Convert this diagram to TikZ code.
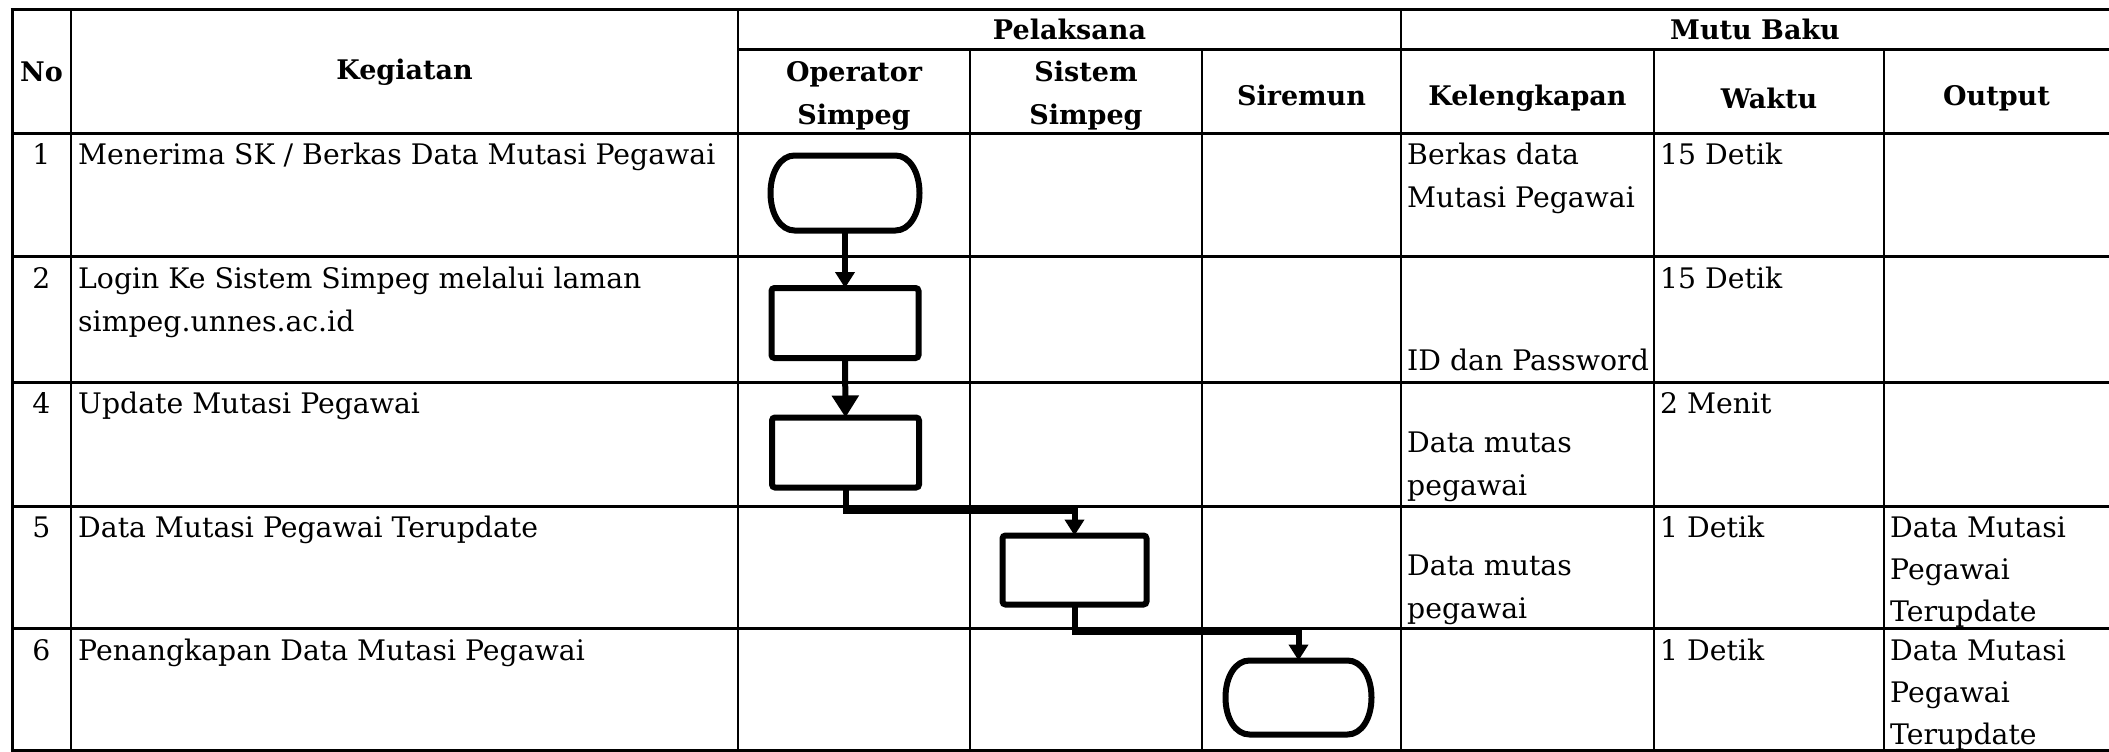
\documentclass[tikz,border=0pt]{standalone}
\usepackage{fontspec}
\setmainfont{DejaVu Serif}
\usetikzlibrary{arrows.meta}
\newcommand\drawterm[1]{%
  \draw[flowline] ([xshift=24pt]#1.north west) -- ([xshift=-24pt]#1.north east)
    .. controls ([xshift=-10pt]#1.north east) and ([yshift=21pt]#1.east) .. (#1.east)
    .. controls ([yshift=-21pt]#1.east) and ([xshift=-10pt]#1.south east) .. ([xshift=-24pt]#1.south east)
    -- ([xshift=24pt]#1.south west)
    .. controls ([xshift=10pt]#1.south west) and ([yshift=-21pt]#1.west) .. (#1.west)
    .. controls ([yshift=21pt]#1.west) and ([xshift=10pt]#1.north west) .. cycle;}
\begin{document}
\begin{tikzpicture}[x=1pt,y=-1pt,
  hline/.style={line width=3pt},
  vline/.style={line width=2pt},
  hdr/.style={font=\bfseries\fontsize{27}{43}\selectfont, inner sep=0pt, align=center},
  txt/.style={font=\fontsize{28.3}{43}\selectfont, anchor=base west, inner sep=0pt},
  num/.style={font=\fontsize{28.3}{43}\selectfont, anchor=base, inner sep=0pt},
  flowline/.style={line width=6pt, line join=round},
  term/.style={inner sep=0pt, outer sep=0pt, minimum width=149pt, minimum height=75pt},
  proc/.style={draw, line width=6pt, rounded corners=3pt, minimum width=147pt, minimum height=70pt, inner sep=0pt, outer sep=0pt},
  conn/.style={line width=6pt, -{Triangle[length=16pt,width=19pt]}},
  bigconn/.style={line width=6pt, -{Triangle[length=22pt,width=26pt]}}
]
\useasboundingbox (0,0) rectangle (2109,752);
\clip (0,0) rectangle (2109,752);
\fill[white] (0,0) rectangle (2109,752);

% table lines
\draw[hline] (10.5,10) -- (2115,10);
\draw[hline] (738,50) -- (2115,50);
\foreach \yy in {133,256,382,506,628} \draw[hline] (12,\yy) -- (2115,\yy);
\draw[hline] (10.5,750) -- (2115,750);
\draw[hline] (12,10) -- (12,751.5);
\foreach \xx in {71,738,1401} \draw[vline] (\xx,10) -- (\xx,750);
\foreach \xx in {970,1202,1654,1884} \draw[vline] (\xx,50) -- (\xx,750);

% headers
\node[hdr] (hno) at (41.5,72) {No};
\node[hdr] (hkeg) at (404.5,72) {Kegiatan};
\node[hdr] (hpel) at (1069.5,29) {Pelaksana};
\node[hdr] (hmutu) at (1755,29) {Mutu Baku};
\node[hdr] (hop) at (854,96) {Operator\\Simpeg};
\node[hdr] (hsis) at (1086,96) {Sistem\\Simpeg};
\node[hdr] (hsir) at (1301.5,95) {Siremun};
\node[hdr] (hkel) at (1527.5,98) {Kelengkapan};
\node[hdr] (hwak) at (1769,98) {Waktu};
\node[hdr] (hout) at (1996.5,98) {Output};

% row 1
\node[num] (n1) at (41.5,164) {1};
\node[txt] (k1) at (78,164) {Menerima SK / Berkas Data Mutasi Pegawai};
\node[txt] (l1a) at (1407,164) {Berkas data};
\node[txt] (l1b) at (1407,207) {Mutasi Pegawai};
\node[txt] (w1) at (1660,164) {15 Detik};
% row 2
\node[num] (n2) at (41.5,288) {2};
\node[txt] (k2a) at (78,288) {Login Ke Sistem Simpeg melalui laman};
\node[txt] (k2b) at (78,331) {simpeg.unnes.ac.id};
\node[txt] (l2) at (1407,370) {ID dan Password};
\node[txt] (w2) at (1660,288) {15 Detik};
% row 4
\node[num] (n4) at (41.5,413) {4};
\node[txt] (k4) at (78,413) {Update Mutasi Pegawai};
\node[txt] (l4a) at (1407,452) {Data mutas};
\node[txt] (l4b) at (1407,495) {pegawai};
\node[txt] (w4) at (1660,413) {2 Menit};
% row 5
\node[num] (n5) at (41.5,537) {5};
\node[txt] (k5) at (78,537) {Data Mutasi Pegawai Terupdate};
\node[txt] (l5a) at (1407,575) {Data mutas};
\node[txt] (l5b) at (1407,618) {pegawai};
\node[txt] (w5) at (1660,537) {1 Detik};
\node[txt] (o5a) at (1890,537) {Data Mutasi};
\node[txt] (o5b) at (1890,579) {Pegawai};
\node[txt] (o5c) at (1890,621) {Terupdate};
% row 6
\node[num] (n6) at (41.5,660) {6};
\node[txt] (k6) at (78,660) {Penangkapan Data Mutasi Pegawai};
\node[txt] (w6) at (1660,660) {1 Detik};
\node[txt] (o6a) at (1890,660) {Data Mutasi};
\node[txt] (o6b) at (1890,702) {Pegawai};
\node[txt] (o6c) at (1890,744) {Terupdate};

% flow shapes
\node[term] (t1) at (845,193) {};
\drawterm{t1}
\node[proc] (p2) at (845,323) {};
\node[proc] (p4) at (845.5,452.5) {};
\node[proc, minimum width=144pt, minimum height=69pt] (p5) at (1074.5,570) {};
\node[term, minimum width=146pt, minimum height=74pt] (t6) at (1298.5,697.5) {};
\drawterm{t6}

\coordinate (j1) at (845.5,511);
\coordinate (j2) at (1074.5,632);

\draw[conn] (t1.south) -- (p2.north);
\draw[bigconn] (p2.south) -- (p4.north);
\draw[conn] (p4.south) -- (j1) -| (p5.north);
\draw[conn] (p5.south) -- (j2) -| (t6.north);
\end{tikzpicture}
\end{document}
